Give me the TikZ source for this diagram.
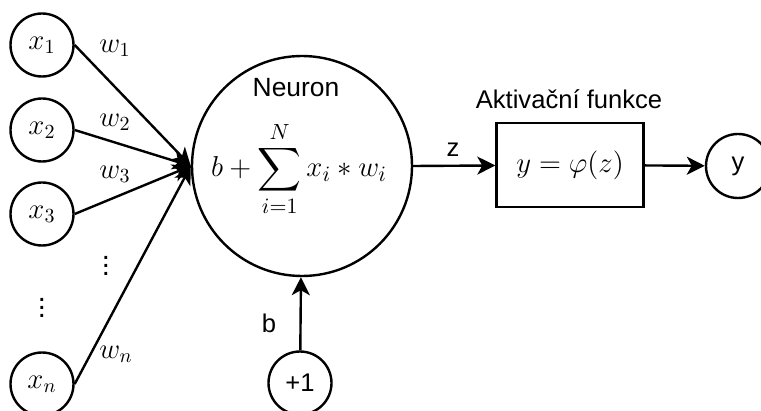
\documentclass[tikz,border=0pt]{standalone}
\usepackage{amsmath}
\usepackage{amssymb}
\usepackage{fontspec}
\setmainfont{Liberation Sans}
\usetikzlibrary{arrows.meta}

\begin{document}
\begin{tikzpicture}[x=0.5pt,y=-0.5pt,line width=1.2pt,
    inp/.style={draw,circle,minimum size=31.5pt,inner sep=0pt,font=\fontsize{14.5}{16}\selectfont},
    lbl/.style={font=\fontsize{14.5}{16}\selectfont},
    txt/.style={font=\fontsize{12.8}{14}\selectfont},
    >={Stealth[length=9pt,width=9pt,inset=2.5pt]}]
    \useasboundingbox (0,0) rectangle (761,411);
    \node[inp] (x1) at (42,45) {$x_1$};
    \node[inp] (x2) at (42,130) {$x_2$};
    \node[inp] (x3) at (42,214) {$x_3$};
    \node[inp] (xn) at (42,384) {$x_n$};
    \node[lbl] (d1) at (106,260) {$\vdots$};
    \node[lbl] (d2) at (42,302) {$\vdots$};
    \node[lbl] (w1) at (115,48) {$w_1$};
    \node[lbl] (w2) at (115,122) {$w_2$};
    \node[lbl] (w3) at (115,174) {$w_3$};
    \node[lbl] (wn) at (116,354) {$w_n$};
    \node[draw,circle,minimum size=110pt,inner sep=0pt] (sum) at (302,166) {};
    \node[font=\fontsize{15.2}{17}\selectfont] (f) at (299,169) {$\displaystyle b+\sum_{i=1}^{N} x_i * w_i$};
    \node[txt,font=\fontsize{13.2}{15}\selectfont] (neu) at (296,88) {Neuron};
    \node[inp,font=\fontsize{12.8}{14}\selectfont] (one) at (300,383) {+1};
    \node[txt] (b) at (269,323) {b};
    \node[draw,minimum width=73.5pt,minimum height=42pt,font=\fontsize{14.5}{16}\selectfont] (act) at (570,165) {$y=\varphi(z)$};
    \node[txt] (akt) at (569,99) {Aktivační funkce};
    \node[txt] (z) at (453,150) {z};
    \node[inp,minimum size=32pt,font=\fontsize{12.8}{14}\selectfont] (y) at (738,166) {y};
    \draw[->] (x1.east) -- (sum.west);
    \draw[->] (x2.east) -- (sum.west);
    \draw[->] (x3.east) -- (sum.west);
    \draw[->] (xn.east) -- (sum.west);
    \draw[->] (one) -- (sum);
    \draw[->] (sum.east) -- (act);
    \draw[->] (act) -- (y);
\end{tikzpicture}
\end{document}
